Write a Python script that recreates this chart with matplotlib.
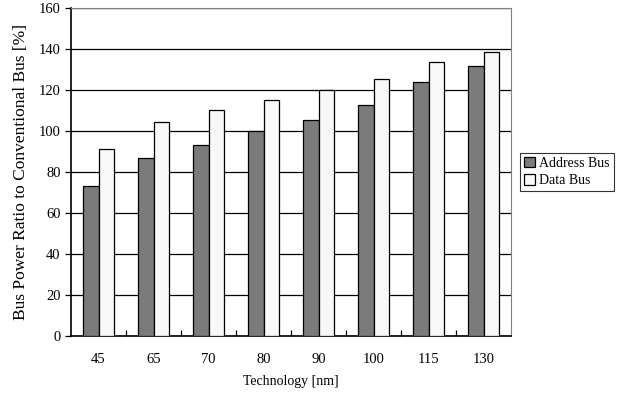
import numpy as np
import matplotlib.pyplot as plt

plt.rcParams['font.family'] = ['Liberation Serif', 'DejaVu Serif']

tech = ['45', '65', '70', '80', '90', '100', '115', '130']
address_bus = [73, 87, 93, 100, 105.5, 112.7, 124, 131.5]
data_bus = [91, 104.5, 110, 115, 120, 125.3, 133.5, 138.5]

fig = plt.figure(figsize=(6.18, 3.94), dpi=100)
ax = fig.add_axes([71/618, 1-336/394, 440/618, 328/394])

x = np.arange(len(tech))
w = 0.29
ax.bar(x - w/2, address_bus, w, color='#7b7b7b', edgecolor='black', linewidth=0.9, label='Address Bus', zorder=3)
ax.bar(x + w/2, data_bus, w, color='#f8f8f8', edgecolor='black', linewidth=0.9, label='Data Bus', zorder=3)

ax.set_xlim(-0.5, len(tech) - 0.5)
ax.set_ylim(0, 160)
ax.set_yticks(range(0, 161, 20))
ax.yaxis.grid(True, color='black', linewidth=0.9, zorder=0)
ax.set_xticks(x)
ax.set_xticklabels(tech, fontsize=10.5)
ax.tick_params(axis='x', length=0, pad=12)
ax.set_xticks(np.arange(0.5, len(tech) - 1, 1), minor=True)
ax.tick_params(axis='x', which='minor', direction='in', length=4, width=0.9)
ax.tick_params(axis='y', direction='out', length=4, width=0.9, labelsize=10.5)

for s in ['top', 'right']:
    ax.spines[s].set_color('#808080')
for s in ['left', 'bottom']:
    ax.spines[s].set_linewidth(1.2)

ax.set_xlabel('Technology [nm]', fontsize=10, labelpad=7)
ax.set_ylabel('Bus Power Ratio to Conventional Bus [%]', fontsize=12.5, labelpad=7)

leg = ax.legend(loc='center left', bbox_to_anchor=(1.02, 0.5), fontsize=10, frameon=True, fancybox=False,
                edgecolor='black', handlelength=0.8, handleheight=0.8, handletextpad=0.3,
                borderaxespad=0, borderpad=0.3, labelspacing=0.3)
leg.get_frame().set_linewidth(0.8)

fig.savefig('out.png', dpi=100)
